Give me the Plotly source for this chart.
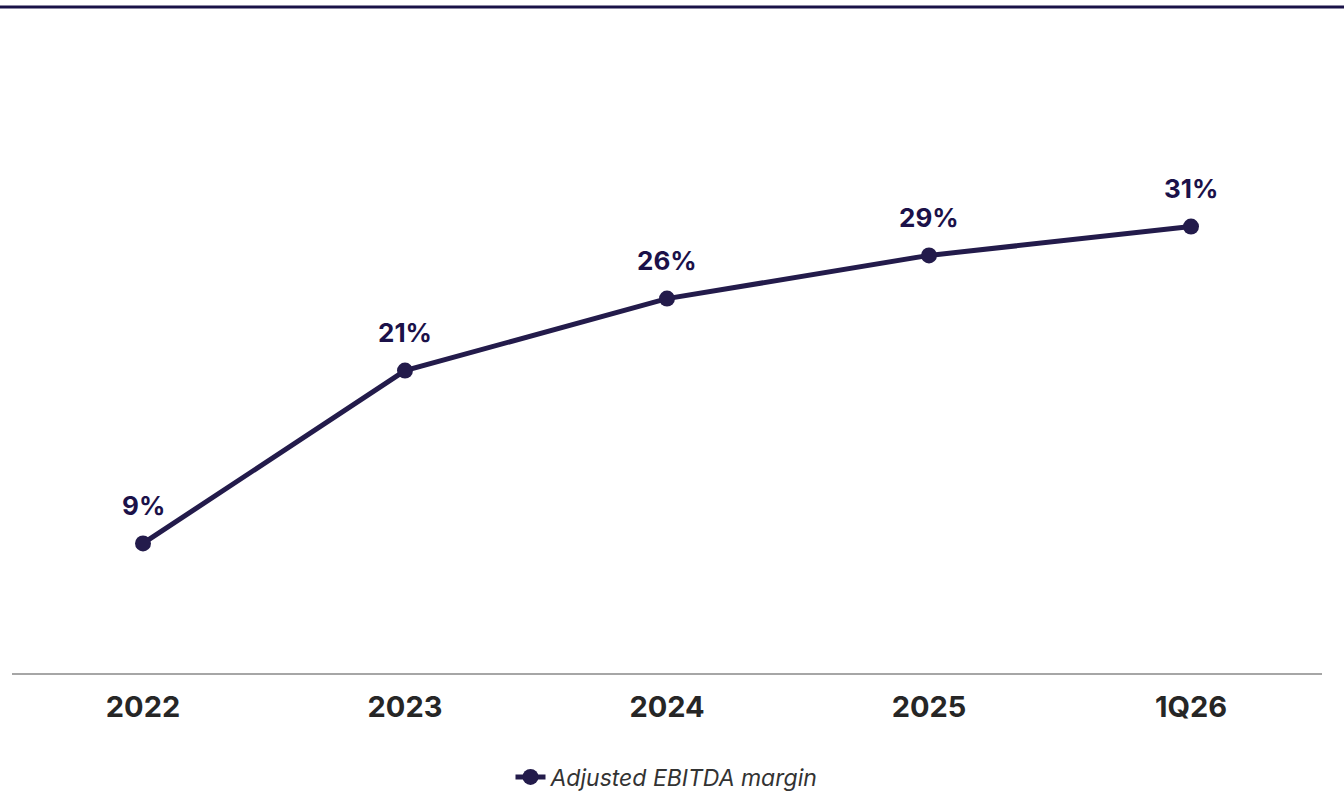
import plotly.graph_objects as go

# Adjusted EBITDA margin by period (percent)
periods = ["2022", "2023", "2024", "2025", "1Q26"]
margin_pct = [9, 21, 26, 29, 31]
series_name = "Adjusted EBITDA margin"

navy = "#231b4b"
label_navy = "#1b1149"

fig = go.Figure()
fig.add_trace(go.Scatter(
    x=periods,
    y=margin_pct,
    mode="lines+markers",
    name=series_name,
    line=dict(color=navy, width=5),
    marker=dict(color=navy, size=16),
    showlegend=True,
))

# Value labels above each point (x given as category index)
for i, v in enumerate(margin_pct):
    fig.add_annotation(
        x=i, y=v, text=f"<b>{v}%</b>", showarrow=False,
        yshift=38, xanchor="center", yanchor="middle",
        font=dict(family="Inter, sans-serif", size=26, color=label_navy),
    )

# Thin header rule across the top of the page
fig.add_shape(
    type="line", xref="paper", yref="paper",
    x0=-12 / 1310, x1=1332 / 1310, y0=666 / 648, y1=666 / 648,
    line=dict(color="#1a1248", width=3),
)

fig.update_layout(
    width=1344, height=791,
    margin=dict(l=12, r=22, t=25, b=118, autoexpand=False),
    paper_bgcolor="white", plot_bgcolor="white",
    xaxis=dict(
        type="category", range=[-0.5, 4.5],
        showgrid=False, zeroline=False,
        showline=True, linecolor="#a6a6a6", linewidth=2,
        ticks="", ticklabelstandoff=7,
        tickfont=dict(family="Inter, sans-serif", size=29, color="#262626", weight="bold"),
    ),
    yaxis=dict(
        range=[0, 45], visible=False, showgrid=False, zeroline=False,
    ),
    legend=dict(
        orientation="h", x=0.5, xanchor="center", y=-104 / 648, yanchor="middle",
        font=dict(family="Inter, sans-serif", size=23, color="#333333", style="italic"),
        bgcolor="rgba(0,0,0,0)",
    ),
)

fig.write_html("out.html")
